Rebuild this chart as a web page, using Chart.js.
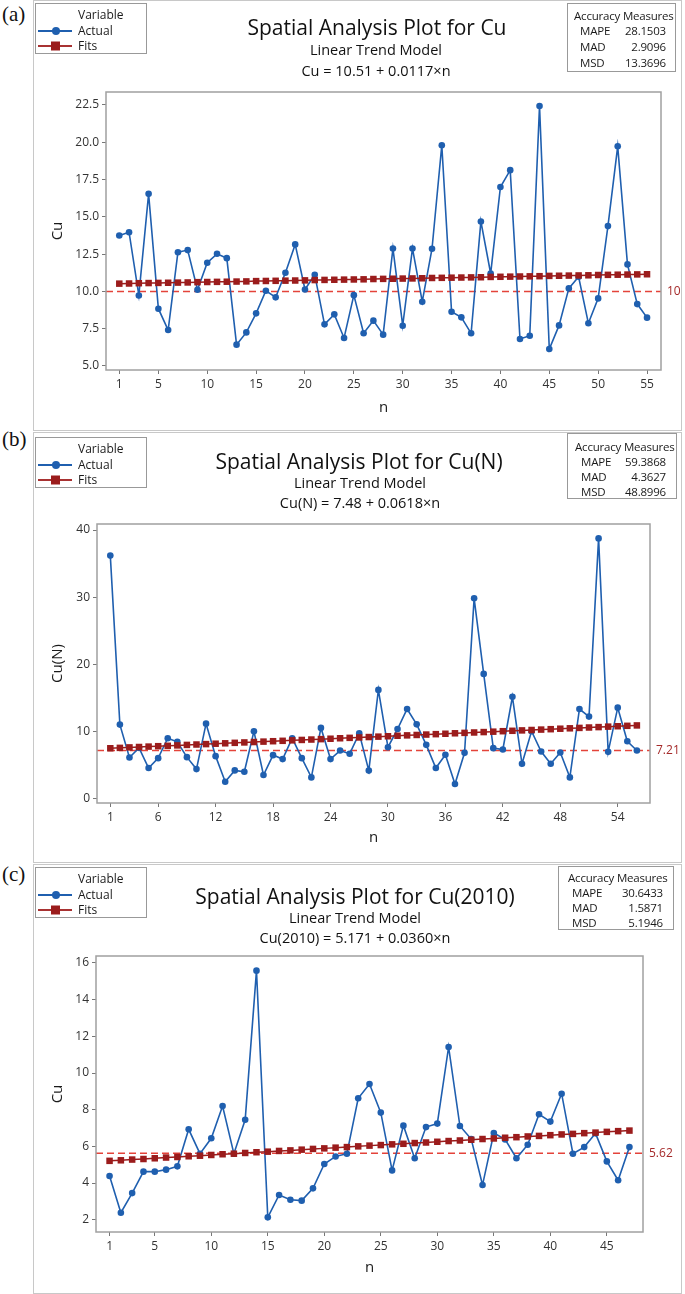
<!DOCTYPE html>
<html>
<head>
<meta charset="utf-8">
<script src="https://cdn.jsdelivr.net/npm/chart.js@4.4.1/dist/chart.umd.min.js"></script>
<style>
  body { margin: 0; width: 685px; height: 1294px; position: relative; background: #fff; overflow: hidden;
         font-family: 'Open Sans', sans-serif; color: #1a1a1a; }
  .panel { position: absolute; left: 33px; width: 649px; border: 1px solid #c8c8c8; box-sizing: border-box; }
  canvas { position: absolute; left: 33px; }
  .tag { position: absolute; left: 2px; font-family: 'Liberation Serif', serif; font-size: 21px; color: #111; }
  .title { position: absolute; width: 400px; text-align: center; white-space: nowrap; color: #111; }
  .t1 { font-size: 21px; }
  .t2 { font-size: 14.5px; }
  .legend { position: absolute; left: 35px; width: 112px; height: 51px; border: 1px solid #999; box-sizing: border-box; background: #fff; font-size: 12px; }
  .legend span { position: absolute; left: 42px; white-space: nowrap; }
  .legend svg { position: absolute; left: 2px; }
  .acc { position: absolute; border: 1px solid #999; box-sizing: border-box; background: #fff; font-size: 11.5px; letter-spacing: -0.2px; }
  .acc div { position: absolute; white-space: nowrap; }
</style>
</head>
<body>
<div class="panel" style="top:0;height:431px"></div>
<div class="panel" style="top:432px;height:431px"></div>
<div class="panel" style="top:864px;height:430px"></div>

<canvas id="chartA" width="652" height="430" style="top:0"></canvas>
<canvas id="chartB" width="652" height="430" style="top:432px"></canvas>
<canvas id="chartC" width="652" height="431" style="top:863px"></canvas>

<div class="tag" style="top:2px">(a)</div>
<div class="tag" style="top:427px">(b)</div>
<div class="tag" style="top:862px">(c)</div>

<!-- titles -->
<div class="title t1" style="left:177px;top:13px">Spatial Analysis Plot for Cu</div>
<div class="title t2" style="left:176px;top:40px">Linear Trend Model</div>
<div class="title t2" style="left:176px;top:61px">Cu = 10.51 + 0.0117×n</div>

<div class="title t1" style="left:159px;top:447px">Spatial Analysis Plot for Cu(N)</div>
<div class="title t2" style="left:160px;top:473px">Linear Trend Model</div>
<div class="title t2" style="left:160px;top:493px">Cu(N) = 7.48 + 0.0618×n</div>

<div class="title t1" style="left:155px;top:882px">Spatial Analysis Plot for Cu(2010)</div>
<div class="title t2" style="left:155px;top:908px">Linear Trend Model</div>
<div class="title t2" style="left:155px;top:928px">Cu(2010) = 5.171 + 0.0360×n</div>

<!-- legends -->
<div class="legend" style="top:3px">
  <span style="top:2px">Variable</span>
  <svg width="36" height="12" style="top:21px"><line x1="0" y1="6" x2="34" y2="6" stroke="#1f5faf" stroke-width="2"/><circle cx="18" cy="6" r="4" fill="#1f5faf"/></svg>
  <span style="top:18px">Actual</span>
  <svg width="36" height="12" style="top:36px"><line x1="0" y1="6" x2="34" y2="6" stroke="#a83232" stroke-width="2"/><rect x="13" y="1.5" width="9" height="9" fill="#9b1c1c"/></svg>
  <span style="top:33px">Fits</span>
</div>
<div class="legend" style="top:437px">
  <span style="top:2px">Variable</span>
  <svg width="36" height="12" style="top:21px"><line x1="0" y1="6" x2="34" y2="6" stroke="#1f5faf" stroke-width="2"/><circle cx="18" cy="6" r="4" fill="#1f5faf"/></svg>
  <span style="top:18px">Actual</span>
  <svg width="36" height="12" style="top:36px"><line x1="0" y1="6" x2="34" y2="6" stroke="#a83232" stroke-width="2"/><rect x="13" y="1.5" width="9" height="9" fill="#9b1c1c"/></svg>
  <span style="top:33px">Fits</span>
</div>
<div class="legend" style="top:867px">
  <span style="top:2px">Variable</span>
  <svg width="36" height="12" style="top:21px"><line x1="0" y1="6" x2="34" y2="6" stroke="#1f5faf" stroke-width="2"/><circle cx="18" cy="6" r="4" fill="#1f5faf"/></svg>
  <span style="top:18px">Actual</span>
  <svg width="36" height="12" style="top:36px"><line x1="0" y1="6" x2="34" y2="6" stroke="#a83232" stroke-width="2"/><rect x="13" y="1.5" width="9" height="9" fill="#9b1c1c"/></svg>
  <span style="top:33px">Fits</span>
</div>

<!-- accuracy measures -->
<div class="acc" style="left:567px;top:3px;width:109px;height:69px">
  <div style="left:6px;top:4px">Accuracy Measures</div>
  <div style="left:12px;top:19px">MAPE</div><div style="right:9px;top:19px">28.1503</div>
  <div style="left:12px;top:35px">MAD</div><div style="right:9px;top:35px">2.9096</div>
  <div style="left:12px;top:51px">MSD</div><div style="right:9px;top:51px">13.3696</div>
</div>
<div class="acc" style="left:567px;top:433px;width:110px;height:66px">
  <div style="left:7px;top:5px">Accuracy Measures</div>
  <div style="left:13px;top:20px">MAPE</div><div style="right:10px;top:20px">59.3868</div>
  <div style="left:13px;top:35px">MAD</div><div style="right:10px;top:35px">4.3627</div>
  <div style="left:13px;top:50px">MSD</div><div style="right:10px;top:50px">48.8996</div>
</div>
<div class="acc" style="left:558px;top:866px;width:116px;height:64px">
  <div style="left:9px;top:3px">Accuracy Measures</div>
  <div style="left:13px;top:18px">MAPE</div><div style="right:10px;top:18px">30.6433</div>
  <div style="left:13px;top:33px">MAD</div><div style="right:10px;top:33px">1.5871</div>
  <div style="left:13px;top:48px">MSD</div><div style="right:10px;top:48px">5.1946</div>
</div>

<script>
// (a) Cu
const actualA = [13.75, 13.97, 9.73, 16.54, 8.84, 7.41, 12.63, 12.77, 10.11, 11.92,
    12.52, 12.23, 6.43, 7.25, 8.53, 10.04, 9.6, 11.25, 13.15, 10.13,
    11.12, 7.79, 8.46, 6.88, 9.75, 7.19, 8.04, 7.1, 12.88, 7.7,
    12.88, 9.31, 12.86, 19.8, 8.64, 8.26, 7.19, 14.69, 11.2, 17.0,
    18.13, 6.81, 7.03, 22.43, 6.14, 7.72, 10.2, 10.98, 7.86, 9.53,
    14.38, 19.73, 11.81, 9.15, 8.24];
const fitsA = [10.52, 10.53, 10.55, 10.56, 10.57, 10.58, 10.59, 10.60, 10.62, 10.63,
    10.64, 10.65, 10.66, 10.67, 10.69, 10.70, 10.71, 10.72, 10.73, 10.74,
    10.76, 10.77, 10.78, 10.79, 10.80, 10.81, 10.83, 10.84, 10.85, 10.86,
    10.87, 10.88, 10.90, 10.91, 10.92, 10.93, 10.94, 10.95, 10.97, 10.98,
    10.99, 11.00, 11.01, 11.02, 11.04, 11.05, 11.06, 11.07, 11.08, 11.10,
    11.11, 11.12, 11.13, 11.14, 11.15];
const xTicksA = [1, 5, 10, 15, 20, 25, 30, 35, 40, 45, 50, 55];
const yTicksA = [5.0, 7.5, 10.0, 12.5, 15.0, 17.5, 20.0, 22.5];
const refA = 10;

// (b) Cu(N)
const actualB = [36.2, 11.06, 6.17, 7.6, 4.6, 6.07, 9.04, 8.5, 6.22, 4.44,
    11.2, 6.37, 2.57, 4.25, 4.05, 10.07, 3.56, 6.52, 5.93, 9.04,
    6.07, 3.21, 10.57, 5.93, 7.2, 6.72, 9.75, 4.22, 16.22, 7.7,
    10.4, 13.38, 11.1, 8.05, 4.6, 6.57, 2.22, 6.86, 29.85, 18.6,
    7.56, 7.36, 15.2, 5.23, 10.07, 7.06, 5.23, 6.91, 3.21, 13.38,
    12.25, 38.76, 7.01, 13.58, 8.59, 7.21];
const fitsB = [7.54, 7.60, 7.67, 7.73, 7.79, 7.85, 7.91, 7.97, 8.04, 8.10,
    8.16, 8.22, 8.28, 8.35, 8.41, 8.47, 8.53, 8.59, 8.65, 8.72,
    8.78, 8.84, 8.90, 8.96, 9.03, 9.09, 9.15, 9.21, 9.27, 9.33,
    9.40, 9.46, 9.52, 9.58, 9.64, 9.70, 9.77, 9.83, 9.89, 9.95,
    10.01, 10.08, 10.14, 10.20, 10.26, 10.32, 10.38, 10.45, 10.51, 10.57,
    10.63, 10.69, 10.76, 10.82, 10.88, 10.94];
const xTicksB = [1, 6, 12, 18, 24, 30, 36, 42, 48, 54];
const yTicksB = [0, 10, 20, 30, 40];
const refB = 7.21;

// (c) Cu(2010)
const actualC = [4.38, 2.38, 3.45, 4.62, 4.62, 4.73, 4.91, 6.93, 5.6, 6.44,
    8.2, 5.6, 7.45, 15.58, 2.13, 3.35, 3.09, 3.04, 3.71, 5.04,
    5.45, 5.6, 8.62, 9.4, 7.84, 4.69, 7.13, 5.35, 7.05, 7.24,
    11.42, 7.11, 6.4, 3.89, 6.73, 6.38, 5.35, 6.09, 7.75, 7.35,
    8.87, 5.6, 5.96, 6.71, 5.18, 4.15, 5.96];
const fitsC = [5.21, 5.24, 5.28, 5.31, 5.35, 5.39, 5.42, 5.46, 5.49, 5.53,
    5.57, 5.60, 5.64, 5.68, 5.71, 5.75, 5.78, 5.82, 5.86, 5.89,
    5.93, 5.96, 6.00, 6.04, 6.07, 6.11, 6.14, 6.18, 6.21, 6.25,
    6.29, 6.32, 6.36, 6.40, 6.43, 6.47, 6.50, 6.54, 6.57, 6.61,
    6.65, 6.68, 6.72, 6.75, 6.79, 6.83, 6.86];
const xTicksC = [1, 5, 10, 15, 20, 25, 30, 35, 40, 45];
const yTicksC = [2, 4, 6, 8, 10, 12, 14, 16];
const refC = 5.62;

const BLUE = '#1f5faf';
const DARKRED = '#9b1c1c';
const REFRED = '#e4433a';
const tickFont = { family: "'Open Sans', sans-serif", size: 12 };

// grey box round the plot area, plus the value label of the dashed line
const framePlugin = {
    id: 'frame',
    afterDraw(chart, args, opts) {
        const { ctx, chartArea: a } = chart;
        ctx.save();
        ctx.strokeStyle = '#a0a0a0';
        ctx.lineWidth = 1.5;
        ctx.strokeRect(a.left, a.top, a.right - a.left, a.bottom - a.top);
        const y = chart.scales.y.getPixelForValue(opts.ref);
        ctx.fillStyle = '#a52a2a';
        ctx.font = "12px 'Open Sans', sans-serif";
        ctx.textBaseline = 'middle';
        ctx.fillText(opts.label, a.right + 6, y);
        ctx.restore();
    }
};

function makeChart(id, p) {
    const pts = arr => arr.map((v, i) => ({ x: i + 1, y: v }));
    return new Chart(document.getElementById(id), {
        type: 'line',
        data: {
            datasets: [
                {
                    label: 'Fits',
                    data: pts(p.fits),
                    borderColor: DARKRED,
                    backgroundColor: DARKRED,
                    borderWidth: 1.5,
                    pointStyle: 'rect',
                    pointRadius: 4.6,
                    pointBorderWidth: 0
                },
                {
                    label: 'Actual',
                    data: pts(p.actual),
                    borderColor: BLUE,
                    backgroundColor: BLUE,
                    borderWidth: 1.6,
                    pointRadius: 3.3,
                    pointBorderWidth: 0
                },
                {
                    label: 'ref',
                    data: [{ x: p.xMin, y: p.ref }, { x: p.xMax, y: p.ref }],
                    borderColor: REFRED,
                    borderWidth: 1.5,
                    borderDash: [7, 4],
                    pointRadius: 0
                }
            ]
        },
        options: {
            responsive: false,
            animation: false,
            layout: { padding: { left: 16, right: p.padRight, top: p.padTop, bottom: p.padBottom } },
            plugins: {
                legend: { display: false },
                tooltip: { enabled: false },
                frame: { ref: p.ref, label: String(p.ref) }
            },
            scales: {
                x: {
                    type: 'linear',
                    min: p.xMin,
                    max: p.xMax,
                    afterBuildTicks: s => { s.ticks = p.xTicks.map(v => ({ value: v })); },
                    afterFit: s => { s.height = p.xHeight; },
                    grid: { drawOnChartArea: false, drawTicks: true, tickLength: 4, color: '#777' },
                    border: { display: false },
                    ticks: { font: tickFont, color: '#333', padding: 3, maxRotation: 0, autoSkip: false },
                    title: { display: true, text: 'n', font: { family: "'Open Sans', sans-serif", size: 15 }, color: '#1a1a1a', padding: 0 }
                },
                y: {
                    min: p.yMin,
                    max: p.yMax,
                    afterBuildTicks: s => { s.ticks = p.yTicks.map(v => ({ value: v })); },
                    afterFit: s => { s.width = p.yWidth; },
                    grid: { drawOnChartArea: false, drawTicks: true, tickLength: 4, color: '#777' },
                    border: { display: false },
                    ticks: { font: tickFont, color: '#333', padding: 3, callback: p.yFmt },
                    title: { display: true, text: p.yTitle, font: { family: "'Open Sans', sans-serif", size: 15 }, color: '#1a1a1a', padding: 0 }
                }
            }
        },
        plugins: [framePlugin]
    });
}

makeChart('chartA', {
    actual: actualA, fits: fitsA, xTicks: xTicksA, yTicks: yTicksA, ref: refA,
    xMin: -0.36, xMax: 56.43, yMin: 4.73, yMax: 23.37, yTitle: 'Cu',
    yFmt: v => v.toFixed(1),
    yWidth: 57, xHeight: 47, padRight: 24, padTop: 92, padBottom: 13
});
makeChart('chartB', {
    actual: actualB, fits: fitsB, xTicks: xTicksB, yTicks: yTicksB, ref: refB,
    xMin: -0.39, xMax: 57.37, yMin: -0.6, yMax: 40.9, yTitle: 'Cu(N)',
    yFmt: v => String(v),
    yWidth: 48, xHeight: 44, padRight: 35, padTop: 92, padBottom: 15
});
makeChart('chartC', {
    actual: actualC, fits: fitsC, xTicks: xTicksC, yTicks: yTicksC, ref: refC,
    xMin: -0.2, xMax: 48.2, yMin: 1.33, yMax: 16.38, yTitle: 'Cu',
    yFmt: v => String(v),
    yWidth: 47, xHeight: 45, padRight: 42, padTop: 93, padBottom: 17
});
</script>
</body>
</html>
